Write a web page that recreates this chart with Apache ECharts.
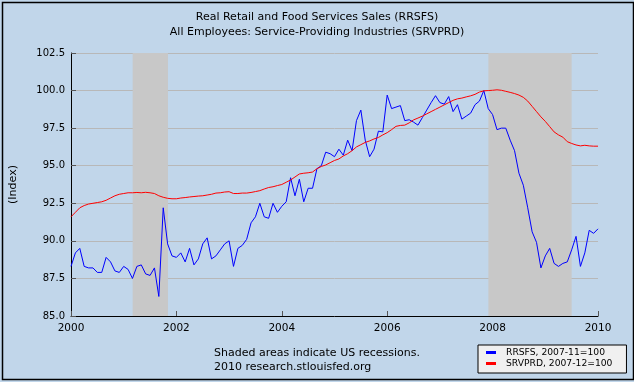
<!DOCTYPE html>
<html>
<head>
<meta charset="utf-8">
<script src="https://cdn.jsdelivr.net/npm/echarts@6/dist/echarts.min.js"></script>
<style>
html,body{margin:0;padding:0;background:#fff;}
#c{width:634px;height:382px;}
</style>
</head>
<body>
<div id="c"></div>
<script>
// Monthly data, Jan 2000 .. Jan 2010
const startYear = 2000;
const rrsfs = [
88.3,89.2,89.5,88.3,88.2,88.2,87.9,87.9,88.9,88.6,88.0,87.9,
88.3,88.1,87.5,88.3,88.4,87.8,87.7,88.2,86.3,92.2,89.8,89.0,
88.9,89.2,88.6,89.5,88.4,88.8,89.8,90.2,88.8,89.0,89.4,89.8,
90.0,88.3,89.5,89.7,90.1,91.2,91.6,92.5,91.6,91.5,92.5,91.9,
92.3,92.6,94.2,93.0,94.1,92.6,93.5,93.5,94.8,95.0,95.9,95.8,
95.6,96.1,95.7,96.7,96.0,98.0,98.7,96.7,95.6,96.1,97.3,97.25,
99.7,98.8,98.9,99.0,98.0,98.06,97.9,97.7,98.2,98.7,99.2,99.66,
99.2,99.1,99.6,98.6,99.06,98.1,98.3,98.5,99.06,99.3,100.0,98.8,
98.4,97.4,97.5,97.5,96.7,96.0,94.5,93.7,92.2,90.6,89.9,88.2,
89.0,89.5,88.5,88.3,88.5,88.6,89.4,90.3,88.3,89.2,90.7,90.5,
90.8
];
const srvprd = [
91.6,91.9,92.2,92.35,92.45,92.5,92.55,92.6,92.7,92.85,93.0,93.1,
93.15,93.2,93.2,93.22,93.2,93.23,93.2,93.15,93.0,92.9,92.83,92.8,
92.8,92.85,92.88,92.92,92.95,92.98,93.0,93.05,93.1,93.18,93.2,93.25,
93.27,93.15,93.15,93.18,93.18,93.22,93.28,93.34,93.45,93.55,93.6,93.68,
93.75,93.9,94.05,94.25,94.45,94.5,94.53,94.58,94.8,94.95,95.05,95.2,
95.35,95.45,95.65,95.8,96.0,96.25,96.4,96.55,96.65,96.78,96.88,97.05,
97.2,97.4,97.62,97.68,97.7,97.85,98.05,98.17,98.3,98.45,98.6,98.75,
98.9,99.05,99.2,99.35,99.45,99.5,99.58,99.65,99.75,99.9,99.98,100.0,
100.02,100.05,100.02,99.95,99.88,99.8,99.7,99.55,99.3,98.95,98.6,98.25,
97.95,97.6,97.25,97.05,96.9,96.6,96.48,96.38,96.32,96.36,96.32,96.3,
96.3
];
const recessions = [[2001.17, 2001.84], [2007.92, 2009.5]];
const seriesNames = ['RRSFS, 2007-11=100', 'SRVPRD, 2007-12=100'];
const titleLines = ['Real Retail and Food Services Sales (RRSFS)', 'All Employees: Service-Providing Industries (SRVPRD)'];
const footLines = ['Shaded areas indicate US recessions.', '2010 research.stlouisfed.org'];

const toXY = arr => arr.map((v, i) => [startYear + i / 12, v]);
const FONT = 'DejaVu Sans';

const chart = echarts.init(document.getElementById('c'), null, {renderer: 'canvas'});
chart.setOption({
  animation: false,
  backgroundColor: '#C1D6EA',
  title: {
    text: titleLines.join('\n'),
    left: 'center',
    top: 5,
    textStyle: {fontFamily: FONT, fontSize: 11, fontWeight: 'normal', color: '#000', lineHeight: 15}
  },
  grid: {left: 68, right: 36, top: 53, bottom: 66},
  xAxis: {
    type: 'value', min: 2000, max: 2010, interval: 2,
    axisLine: {lineStyle: {color: '#000', width: 1}},
    axisTick: {inside: true, length: 5, lineStyle: {color: '#555'}},
    axisLabel: {fontFamily: FONT, fontSize: 10.5, color: '#000', margin: 7, formatter: v => String(v)},
    splitLine: {show: false}
  },
  yAxis: {
    type: 'value', min: 85, max: 102.5, interval: 2.5,
    name: '(Index)', nameLocation: 'middle', nameGap: 52, nameRotate: 90,
    nameTextStyle: {fontFamily: FONT, fontSize: 11, color: '#000'},
    axisLine: {show: true, lineStyle: {color: '#000', width: 1}},
    axisTick: {show: true, inside: true, length: 5, lineStyle: {color: '#555'}},
    axisLabel: {fontFamily: FONT, fontSize: 10, color: '#000', margin: 6, formatter: v => v.toFixed(1)},
    splitLine: {show: true, lineStyle: {color: '#B8B8B8', width: 1}}
  },
  legend: {
    orient: 'vertical', left: 478, top: 345,
    backgroundColor: '#F0F0F0', borderColor: '#000', borderWidth: 1, borderRadius: 0,
    padding: [3, 14, 5, 8], itemGap: 2,
    itemWidth: 10, itemHeight: 3, icon: 'rect',
    textStyle: {fontFamily: FONT, fontSize: 9.2, color: '#000', padding: [0, 0, 0, 5]},
    data: seriesNames
  },
  graphic: [
    {type: 'text', left: 'center', top: 346, style: {text: footLines.join('\n'), font: '11px "DejaVu Sans"', fill: '#000', align: 'center', lineHeight: 14}},
    {type: 'rect', left: 0, top: 0, shape: {x: 0, y: 0, width: 631, height: 377}, style: {fill: 'none', stroke: '#000', lineWidth: 1.5}, silent: true, z: 100}
  ],
  series: [
    {
      type: 'line', name: 'recessions', data: [], z: 1, silent: true,
      markArea: {silent: true, itemStyle: {color: '#C8C8C8'}, data: recessions.map(r => [{xAxis: r[0]}, {xAxis: r[1]}])}
    },
    {
      type: 'line', name: seriesNames[0], data: toXY(rrsfs), showSymbol: false, z: 3,
      lineStyle: {color: '#0000FF', width: 1}, itemStyle: {color: '#0000FF'}
    },
    {
      type: 'line', name: seriesNames[1], data: toXY(srvprd), showSymbol: false, z: 4,
      lineStyle: {color: '#FF0000', width: 1}, itemStyle: {color: '#FF0000'}
    }
  ]
});
</script>
</body>
</html>
